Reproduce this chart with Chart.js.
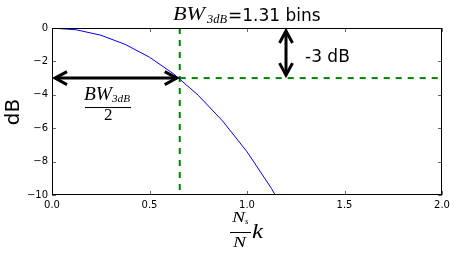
<!DOCTYPE html>
<html>
<head>
<meta charset="utf-8">
<script src="https://cdn.jsdelivr.net/npm/chart.js@4/dist/chart.umd.min.js"></script>
<style>
  html, body { margin: 0; padding: 0; background: #fff; }
  #wrap { width: 456px; height: 256px; }
</style>
</head>
<body>
<div id="wrap"><canvas id="bwChart" width="456" height="256"></canvas></div>
<script>
// main lobe of the window response, in bins
const binOffsets = [0, 0.125, 0.25, 0.375, 0.5, 0.625, 0.75, 0.875, 1.0, 1.125, 1.25];
const responseDb = [0, -0.11, -0.43, -0.98, -1.75, -2.76, -4.03, -5.57, -7.41, -9.6, -12.18];

const bandwidthBins = 1.31;
const halfPowerDb = -3;
const markerBin = 1.2;

const xTickValues = [0, 0.5, 1.0, 1.5, 2.0];
const yTickValues = [0, -2, -4, -6, -8, -10];

const SANS = '"DejaVu Sans", sans-serif';
const SERIF = '"Liberation Serif", serif';

const halfBw = bandwidthBins / 2;

function mathText(ctx, text, x, y, font, width) {
  ctx.save();
  ctx.font = font;
  ctx.textAlign = 'left';
  ctx.textBaseline = 'alphabetic';
  const w = ctx.measureText(text).width;
  ctx.translate(x, y);
  if (width) ctx.scale(width / w, 1);
  ctx.fillText(text, 0, 0);
  ctx.restore();
}

function doubleArrow(ctx, x1, y1, x2, y2) {
  const len = Math.hypot(x2 - x1, y2 - y1);
  const ux = (x2 - x1) / len, uy = (y2 - y1) / len;
  const hl = 12, hw = 6.5;
  ctx.save();
  ctx.strokeStyle = '#000';
  ctx.lineWidth = 3;
  ctx.lineJoin = 'miter';
  ctx.beginPath();
  ctx.moveTo(x1, y1);
  ctx.lineTo(x2, y2);
  ctx.stroke();
  [[x1, y1, 1], [x2, y2, -1]].forEach(([tx, ty, s]) => {
    const bx = tx + s * ux * hl, by = ty + s * uy * hl;
    ctx.beginPath();
    ctx.moveTo(bx - uy * hw, by + ux * hw);
    ctx.lineTo(tx, ty);
    ctx.lineTo(bx + uy * hw, by - ux * hw);
    ctx.stroke();
  });
  ctx.restore();
}

const decorPlugin = {
  id: 'decor',
  afterDatasetsDraw(chart) {
    const { ctx, chartArea: a } = chart;
    const xs = chart.scales.x, ys = chart.scales.y;

    // frame with inward ticks
    ctx.save();
    ctx.strokeStyle = '#000';
    ctx.lineWidth = 1;
    ctx.strokeRect(a.left + 0.5, a.top + 0.5, a.right - a.left - 1, a.bottom - a.top - 1);
    ctx.lineWidth = 0.6;
    ctx.beginPath();
    xTickValues.forEach(v => {
      const px = Math.round(xs.getPixelForValue(v)) + 0.5;
      ctx.moveTo(px, a.bottom); ctx.lineTo(px, a.bottom - 4);
      ctx.moveTo(px, a.top); ctx.lineTo(px, a.top + 4);
    });
    yTickValues.forEach(v => {
      const py = Math.round(ys.getPixelForValue(v)) + 0.5;
      ctx.moveTo(a.left, py); ctx.lineTo(a.left + 4, py);
      ctx.moveTo(a.right, py); ctx.lineTo(a.right - 4, py);
    });
    ctx.stroke();
    ctx.restore();

    // arrows
    const yHalf = ys.getPixelForValue(halfPowerDb);
    doubleArrow(ctx, xs.getPixelForValue(0) + 3, yHalf, xs.getPixelForValue(halfBw) - 3, yHalf);
    const xm = xs.getPixelForValue(markerBin);
    doubleArrow(ctx, xm, ys.getPixelForValue(0) + 3, xm, yHalf - 3);
  },
  afterDraw(chart) {
    const { ctx } = chart;
    ctx.save();
    ctx.fillStyle = '#000';

    // title
    mathText(ctx, 'BW', 173, 20, 'italic 19px ' + SERIF, 32);
    mathText(ctx, '3dB', 207, 23, 'italic 12px ' + SERIF, 20);
    mathText(ctx, '=' + bandwidthBins.toFixed(2) + ' bins', 228, 20.5, '17px ' + SANS);

    // -3 dB label
    mathText(ctx, halfPowerDb + ' dB', 305, 62, '17px ' + SANS);

    // BW/2 label
    mathText(ctx, 'BW', 84, 99.5, 'italic 18px ' + SERIF, 28);
    mathText(ctx, '3dB', 112, 102, 'italic 11px ' + SERIF, 18);
    ctx.fillRect(85, 107, 46, 1);
    mathText(ctx, '2', 104, 120, '17px ' + SERIF);

    // x axis label
    mathText(ctx, 'N', 232, 222, 'italic 15px ' + SERIF, 13);
    mathText(ctx, 's', 245, 224, 'italic 9px ' + SERIF);
    ctx.fillRect(230, 232, 21, 1);
    mathText(ctx, 'N', 233, 247, 'italic 15px ' + SERIF, 13);
    mathText(ctx, 'k', 252, 238, 'italic 22px ' + SERIF, 11);

    // y axis label
    ctx.translate(14, 112);
    ctx.rotate(-Math.PI / 2);
    ctx.font = '20px ' + SANS;
    ctx.textAlign = 'center';
    ctx.textBaseline = 'middle';
    ctx.fillText('dB', 0, 0);
    ctx.restore();
  }
};

const minus = v => (v < 0 ? '\u2212' + Math.abs(v) : String(v));

new Chart(document.getElementById('bwChart'), {
  type: 'line',
  data: {
    datasets: [
      {
        data: binOffsets.map((k, i) => ({ x: k, y: responseDb[i] })),
        borderColor: '#0000ff',
        borderWidth: 1,
        pointRadius: 0,
        tension: 0,
      },
      {
        data: [{ x: halfBw, y: 0 }, { x: halfBw, y: -10 }],
        borderColor: '#008000',
        borderWidth: 2,
        borderDash: [6, 6],
        pointRadius: 0,
      },
      {
        data: [{ x: halfBw, y: halfPowerDb }, { x: 2, y: halfPowerDb }],
        borderColor: '#008000',
        borderWidth: 2,
        borderDash: [6, 6],
        pointRadius: 0,
      },
    ],
  },
  options: {
    responsive: false,
    animation: false,
    layout: { padding: { left: 0, top: 28, right: 14, bottom: 0 } },
    plugins: {
      legend: { display: false },
      tooltip: { enabled: false },
    },
    scales: {
      x: {
        type: 'linear',
        min: 0,
        max: 2,
        afterBuildTicks: s => { s.ticks = xTickValues.map(v => ({ value: v })); },
        afterFit: s => { s.height = 61; },
        grid: { display: false, drawTicks: false },
        border: { display: false },
        ticks: {
          padding: 4,
          color: '#000',
          font: { family: SANS, size: 10 },
          maxRotation: 0,
          autoSkip: false,
          callback: v => Number(v).toFixed(1),
        },
      },
      y: {
        type: 'linear',
        min: -10,
        max: 0,
        afterBuildTicks: s => { s.ticks = yTickValues.map(v => ({ value: v })); },
        afterFit: s => { s.width = 52; },
        grid: { display: false, drawTicks: false },
        border: { display: false },
        ticks: {
          padding: 4,
          color: '#000',
          font: { family: SANS, size: 10 },
          autoSkip: false,
          callback: v => minus(v),
        },
      },
    },
  },
  plugins: [decorPlugin],
});
</script>
</body>
</html>
